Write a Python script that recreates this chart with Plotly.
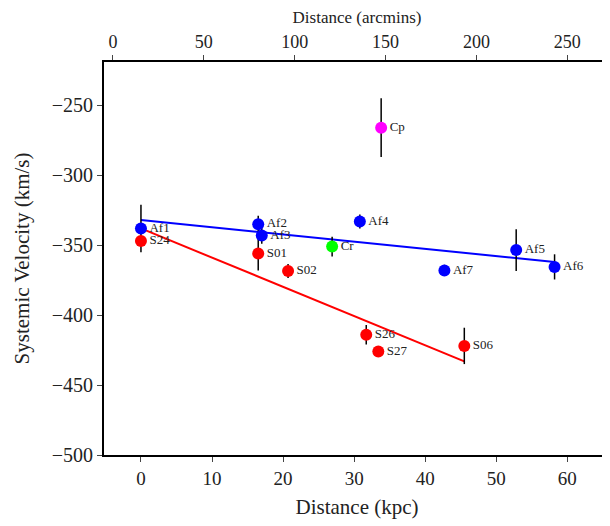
import plotly.graph_objects as go

names = ["Af1", "S24", "Af2", "Af3", "S01", "S02", "Cr", "Af4", "Cp", "S26", "S27", "S06", "Af7", "Af5", "Af6"]
dist = [0, 0, 16.5, 17, 16.5, 20.7, 26.9, 30.8, 33.8, 31.7, 33.4, 45.5, 42.7, 52.8, 58.2]
vel = [-338, -347, -335, -343, -356, -368.5, -351, -333, -266, -414, -426, -422, -368, -353.5, -365.5]
err = [17, 0, 6, 6, 12, 5, 7, 5, 21, 7, 3, 13, 4, 15, 9]
colors = ["blue", "red", "blue", "blue", "red", "red", "lime", "blue", "magenta", "red", "red", "red", "blue", "blue", "blue"]

blue_x = [0, 58.2]
blue_y = [-332, -362]
red_x = [0, 45.5]
red_y = [-338, -433]

serif = "Liberation Serif"
fig = go.Figure()
fig.add_trace(go.Scatter(x=blue_x, y=blue_y, mode="lines", line=dict(color="blue", width=2)))
fig.add_trace(go.Scatter(x=red_x, y=red_y, mode="lines", line=dict(color="red", width=2)))
fig.add_trace(go.Scatter(
    x=dist, y=vel, mode="markers+text", text=names, textposition="middle right",
    textfont=dict(family=serif, size=13, color="#222"),
    marker=dict(size=12, color=colors),
    error_y=dict(type="data", array=err, color="black", thickness=1.5, width=0),
))
# invisible trace to activate top axis
fig.add_trace(go.Scatter(x=[0], y=[-500], xaxis="x2", mode="markers", marker=dict(opacity=0), hoverinfo="skip"))

fig.update_layout(
    width=602, height=518, showlegend=False,
    plot_bgcolor="white", paper_bgcolor="white",
    margin=dict(l=96, r=0, t=54, b=71),
    font=dict(family=serif, color="#222"),
    xaxis=dict(range=[-5.2, 66], dtick=10, showgrid=False, zeroline=False, automargin=False,
               showline=True, linecolor="black", linewidth=2, mirror=False,
               ticks="outside", ticklen=5, tickfont=dict(size=19),
               title=dict(text="Distance (kpc)", font=dict(size=21), standoff=12)),
    xaxis2=dict(overlaying="x", side="top", range=[-4.9, 273.5], dtick=50, automargin=False,
                showgrid=False, zeroline=False, showline=True, linecolor="black", linewidth=2,
                ticks="outside", ticklen=5, tickfont=dict(size=18),
                title=dict(text="Distance (arcmins)", font=dict(size=17), standoff=8)),
    yaxis=dict(range=[-500, -219], dtick=50, showgrid=False, zeroline=False, automargin=False,
               showline=True, linecolor="black", linewidth=2, mirror=True,
               ticks="outside", ticklen=5, tickfont=dict(size=20),
               title=dict(text="Systemic Velocity (km/s)", font=dict(size=21), standoff=16)),
)
fig.write_html("out.html")
